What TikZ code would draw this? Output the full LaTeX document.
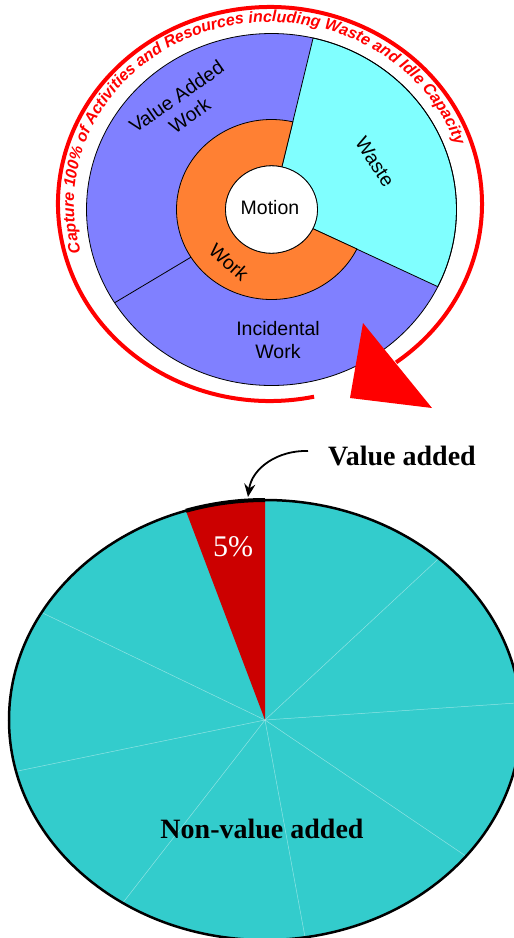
\documentclass[tikz,border=0pt]{standalone}
\usepackage{fontspec}
\setmainfont{Liberation Serif}
\newfontfamily\arialfont{Liberation Sans}
\usetikzlibrary{arrows.meta,decorations.text}

\definecolor{vablue}{RGB}{128,128,255}
\definecolor{wastecyan}{RGB}{128,255,255}
\definecolor{workorange}{RGB}{255,128,51}
\definecolor{pieteal}{RGB}{51,204,204}
\definecolor{piered}{RGB}{204,0,0}
\definecolor{ringred}{RGB}{255,0,0}

\newcommand\ringfont{\arialfont\bfseries\itshape\fontsize{16}{16}\selectfont\color{ringred}}

\tikzset{
  sector/.style={draw=black, line width=0.8pt},
  wheellabel/.style={font=\arialfont\fontsize{19.5}{23}\selectfont, align=center, inner sep=0pt},
  pielabel/.style={font=\bfseries\fontsize{28}{30}\selectfont, inner sep=0pt},
  slicesep/.style={draw=white, draw opacity=0.45, line width=0.5pt},
}

\begin{document}
\begin{tikzpicture}[x=1pt,y=1pt]
\useasboundingbox (0,0) rectangle (514,-938);
\fill[white] (0,0) rectangle (514,-938);
\clip (0,0) rectangle (514,-938);

% ---------- activity wheel ----------
\begin{scope}[shift={(271.5,-209.5)}]
  \fill[vablue] (0,0) ellipse[x radius=185pt, y radius=176pt];
  % waste sector reaches in to the motion hub
  \filldraw[sector, fill=wastecyan]
    (77:185pt and 176pt) arc[start angle=77, end angle=-26, x radius=185pt, y radius=176pt]
    -- (-26:46pt and 43.7pt) arc[start angle=-26, end angle=77, x radius=46pt, y radius=43.7pt]
    -- cycle;
  % work ring
  \filldraw[sector, fill=workorange]
    (77:95pt and 90pt) arc[start angle=77, end angle=334, x radius=95pt, y radius=90pt]
    -- (334:46pt and 43.7pt) arc[start angle=334, end angle=77, x radius=46pt, y radius=43.7pt]
    -- cycle;
  % boundary between value added and incidental work
  \draw[sector] (212:95pt and 90pt) -- (212:185pt and 176pt);
  \draw[sector] (0,0) ellipse[x radius=185pt, y radius=176pt];
  \filldraw[sector, fill=white] (0,0) ellipse[x radius=46pt, y radius=43.7pt];
\end{scope}

\node[wheellabel] (motion) at (270,-208) {Motion};
\node[wheellabel, rotate=35] (vawork) at (183,-106) {Value Added\\Work};
\node[wheellabel, rotate=-57] (waste) at (375,-162) {Waste};
\node[wheellabel, rotate=-42] (work) at (229,-262) {Work};
\node[wheellabel] (incwork) at (278,-340) {Incidental\\Work};

% red capture loop with its caption
\begin{scope}[shift={(270,-204)}]
  \draw[ringred, line width=4pt]
    (282:212pt and 197pt) arc[start angle=282, end angle=-53.5, x radius=212pt, y radius=197pt];
  \path[decorate, decoration={text along path, text align=center,
      text={|\ringfont|Capture 100{\%} of Activities and Resources including Waste and Idle Capacity}}]
    (199:196pt and 182pt) arc[start angle=199, end angle=15, x radius=196pt, y radius=182pt];
\end{scope}
\fill[ringred] (363,-323) -- (350,-398) -- (432,-408) -- cycle;

% ---------- value-added pie ----------
\begin{scope}[shift={(265,-720)}]
  \fill[pieteal] (0,0) ellipse[x radius=256pt, y radius=220pt];
  \fill[piered] (0,0) -- (90:256pt and 220pt)
    arc[start angle=90, end angle=108, x radius=256pt, y radius=220pt] -- cycle;
  \foreach \a in {150.75,193.5,236.25,279,321.75,4.5,47.25}
    \draw[slicesep] (0,0) -- (\a:256pt and 220pt);
  \draw[line width=2.5pt] (0,0) ellipse[x radius=256pt, y radius=220pt];
  \draw[line width=4pt] (90:256pt and 220pt)
    arc[start angle=90, end angle=108, x radius=256pt, y radius=220pt];
\end{scope}

\node[font=\fontsize{30}{30}\selectfont, text=white, inner sep=0pt, anchor=base] (pct) at (233,-556) {5\%};
\node[pielabel, anchor=base] (va) at (402,-465) {Value added};
\node[pielabel, anchor=base] (nva) at (262,-838) {Non-value added};

\coordinate (arrstart) at (308,-451);
\coordinate (arrtip) at (248,-497);
\draw[line width=1.8pt, -{Stealth[length=13pt,width=11pt]}]
  (arrstart) .. controls (278,-450) and (252,-468) .. (arrtip);
\end{tikzpicture}
\end{document}
